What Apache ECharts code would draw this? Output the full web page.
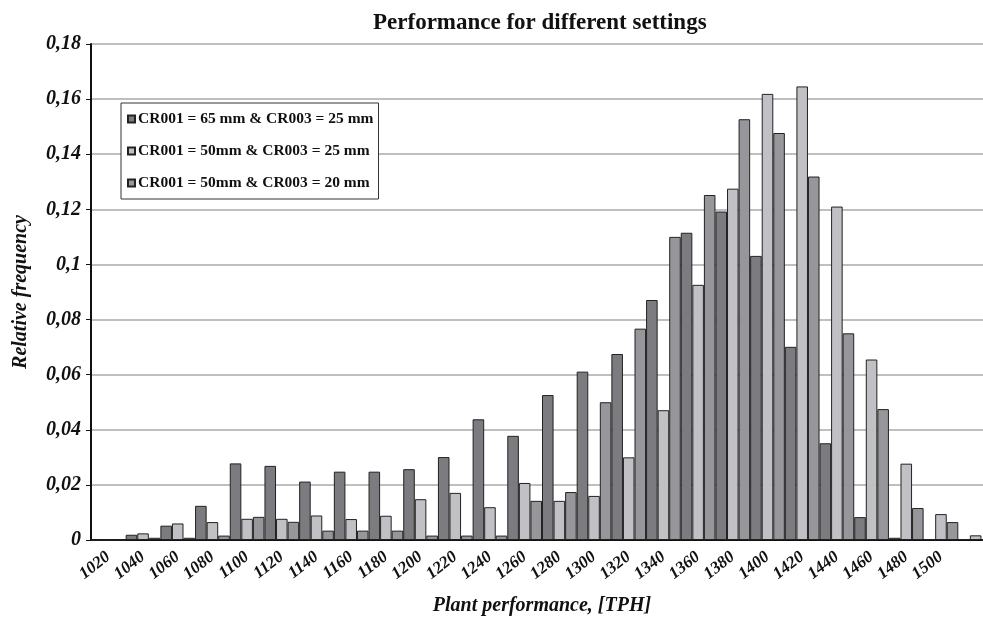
<!DOCTYPE html>
<html>
<head>
<meta charset="utf-8">
<script src="https://cdn.jsdelivr.net/npm/echarts@6/dist/echarts.min.js"></script>
<style>
    html, body { margin: 0; padding: 0; background: #fff; overflow: hidden; }
    #chart { width: 993px; height: 621px; }
</style>
</head>
<body>
<div id="chart"></div>
<script>
var categories = ['1020', '1040', '1060', '1080', '1100', '1120', '1140', '1160', '1180', '1200', '1220', '1240', '1260',
    '1280', '1300', '1320', '1340', '1360', '1380', '1400', '1420', '1440', '1460', '1480', '1500', '1520'];

var seriesNames = ['CR001 = 65 mm & CR003 = 25 mm', 'CR001 = 50mm & CR003 = 25 mm', 'CR001 = 50mm & CR003 = 20 mm'];

var cr65_25 = [0, 0.0019, 0.0052, 0.0124, 0.0278, 0.0269, 0.0212, 0.0248, 0.0248, 0.0257, 0.0301, 0.0438, 0.0378,
    0.0526, 0.0611, 0.0675, 0.0871, 0.1115, 0.1192, 0.1031, 0.0701, 0.0351, 0.0083, 0.0008, 0.0003, 0.0003];
var cr50_25 = [0, 0.0024, 0.0060, 0.0065, 0.0077, 0.0077, 0.0089, 0.0076, 0.0088, 0.0148, 0.0171, 0.0119, 0.0207,
    0.0142, 0.0160, 0.0300, 0.0471, 0.0926, 0.1275, 0.1619, 0.1646, 0.1210, 0.0655, 0.0277, 0.0094, 0.0017];
var cr50_20 = [0, 0.0008, 0.0008, 0.0016, 0.0084, 0.0066, 0.0034, 0.0034, 0.0034, 0.0016, 0.0016, 0.0016, 0.0142,
    0.0174, 0.0500, 0.0767, 0.1100, 0.1252, 0.1527, 0.1477, 0.1319, 0.0750, 0.0475, 0.0116, 0.0065, 0];

var colors = ['#7b7b80', '#c0c0c5', '#96969b'];
var serif = '"Liberation Serif", "DejaVu Serif", serif';

// the plot runs a little past the right edge of the picture, like the original
var chart = echarts.init(document.getElementById('chart'));

function makeSeries(name, data, color) {
    return {
        name: name,
        type: 'bar',
        data: data,
        barGap: '0%',
        barCategoryGap: '0%',
        itemStyle: {
            color: color,
            borderColor: '#222',
            borderWidth: 1
        }
    };
}

var option = {
    animation: false,
    backgroundColor: '#fff',
    title: {
        text: 'Performance for different settings',
        left: 368,
        top: 7,
        textStyle: {
            fontFamily: serif,
            fontWeight: 'bold',
            fontSize: 23,
            color: '#111'
        }
    },
    legend: {
        orient: 'vertical',
        left: 121,
        top: 103,
        icon: 'rect',
        itemWidth: 7,
        itemHeight: 7,
        itemGap: 16,
        padding: [8, 5, 8, 6],
        backgroundColor: '#fff',
        borderColor: '#333',
        borderWidth: 1,
        data: seriesNames,
        textStyle: {
            fontFamily: serif,
            fontWeight: 'bold',
            fontSize: 15.5,
            color: '#111',
            padding: [0, 0, 0, -2]
        }
    },
    grid: {
        left: 91,
        right: 0,
        top: 44,
        bottom: 78
    },
    xAxis: {
        type: 'category',
        data: categories,
        name: 'Plant performance, [TPH]',
        nameLocation: 'middle',
        nameGap: 56,
        nameTextStyle: {
            fontFamily: serif,
            fontWeight: 'bold',
            fontStyle: 'italic',
            fontSize: 20,
            color: '#111'
        },
        axisLine: { lineStyle: { color: '#111', width: 2 } },
        axisTick: { length: 5, lineStyle: { color: '#111', width: 1 } },
        axisLabel: {
            rotate: 38,
            margin: 15,
            interval: function (idx) { return idx < categories.length - 1; },
            fontFamily: serif,
            fontWeight: 'bold',
            fontStyle: 'italic',
            fontSize: 17,
            color: '#111'
        }
    },
    yAxis: {
        type: 'value',
        min: 0,
        max: 0.18,
        interval: 0.02,
        name: 'Relative frequency',
        nameLocation: 'middle',
        nameRotate: 90,
        nameGap: 60,
        nameTextStyle: {
            fontFamily: serif,
            fontWeight: 'bold',
            fontStyle: 'italic',
            fontSize: 20,
            color: '#111'
        },
        axisLine: { show: true, lineStyle: { color: '#111', width: 2 } },
        axisTick: { show: true, length: 5, lineStyle: { color: '#111' } },
        axisLabel: {
            margin: 10,
            fontFamily: serif,
            fontWeight: 'bold',
            fontStyle: 'italic',
            fontSize: 20,
            color: '#111',
            formatter: function (v) {
                return String(Math.round(v * 100) / 100).replace('.', ',');
            }
        },
        splitLine: { lineStyle: { color: '#aaa', width: 1.5 } }
    },
    series: [
        makeSeries(seriesNames[0], cr65_25, colors[0]),
        makeSeries(seriesNames[1], cr50_25, colors[1]),
        makeSeries(seriesNames[2], cr50_20, colors[2])
    ]
};

chart.setOption(option);
</script>
</body>
</html>
